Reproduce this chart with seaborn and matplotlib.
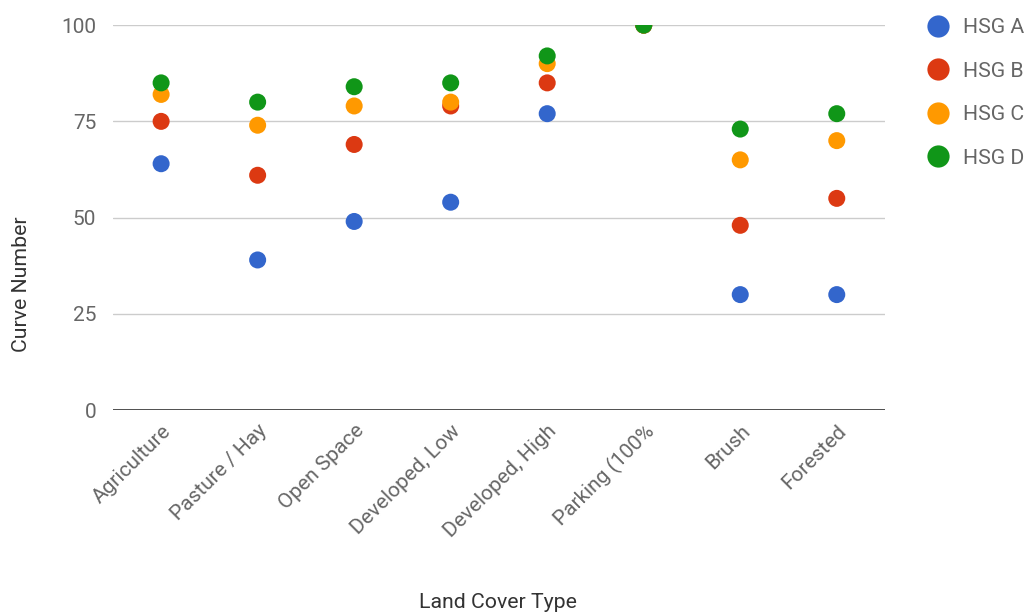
import matplotlib
matplotlib.use("Agg")
import matplotlib.pyplot as plt
import seaborn as sns
import pandas as pd

# Curve numbers by land cover type and hydrologic soil group
land_cover = ["Agriculture", "Pasture / Hay", "Open Space", "Developed, Low",
              "Developed, High", "Parking (100%", "Brush", "Forested"]
hsg_a = [64, 39, 49, 54, 77, 100, 30, 30]
hsg_b = [75, 61, 69, 79, 85, 100, 48, 55]
hsg_c = [82, 74, 79, 80, 90, 100, 65, 70]
hsg_d = [85, 80, 84, 85, 92, 100, 73, 77]
groups = ["HSG A", "HSG B", "HSG C", "HSG D"]
colors = ["#3366CC", "#DC3912", "#FF9900", "#109618"]
y_ticks = [0, 25, 50, 75, 100]

rows = []
for grp, vals in zip(groups, [hsg_a, hsg_b, hsg_c, hsg_d]):
    for cat, v in zip(land_cover, vals):
        rows.append({"Land Cover Type": cat, "Curve Number": v, "Group": grp})
df = pd.DataFrame(rows)

sns.set_theme(style="white")
plt.rcParams["font.family"] = ["Roboto", "DejaVu Sans"]

fig = plt.figure(figsize=(10.26, 6.13), dpi=100)
ax = fig.add_axes([0.110, 0.331, 0.7526, 0.628])

sns.scatterplot(data=df, x="Land Cover Type", y="Curve Number", hue="Group",
                hue_order=groups, palette=colors, s=150, edgecolor="none",
                linewidth=0, ax=ax, legend=False, zorder=3)

ax.set_xlim(-0.5, len(land_cover) - 0.5)
ax.set_ylim(0, 100)
ax.set_yticks(y_ticks)
ax.set_yticklabels([str(t) for t in y_ticks])
ax.set_xticks(range(len(land_cover)))
ax.set_xticklabels(land_cover, rotation=45, ha="right", rotation_mode="anchor")

# points at 100 are cut off by the top edge of the plotting area
for coll in ax.collections:
    coll.set_clip_on(True)
    coll.set_clip_path(ax.patch)

ax.grid(axis="y", color="#cccccc", linewidth=1)
ax.grid(axis="x", visible=False)
ax.axhline(0, color="#333333", linewidth=1.2, zorder=2)
for sp in ax.spines.values():
    sp.set_visible(False)

ax.tick_params(axis="both", length=0, labelsize=15, labelcolor="#666666")
ax.tick_params(axis="y", pad=12)
ax.tick_params(axis="x", pad=8)

ax.set_xlabel("Land Cover Type", fontsize=15.3, color="#333333")
ax.set_ylabel("Curve Number", fontsize=15.3, color="#333333")
ax.xaxis.set_label_coords(498 / 1026, 1 - 593 / 613, transform=fig.transFigure)
ax.yaxis.set_label_coords(31 / 1026, 1 - 284 / 613, transform=fig.transFigure)

handles = [plt.Line2D([], [], marker="o", linestyle="none", markersize=16,
                      markerfacecolor=c, markeredgecolor="none") for c in colors]
leg = ax.legend(handles, groups, loc="upper left", bbox_to_anchor=(0.891, 0.988),
                bbox_transform=fig.transFigure, frameon=False, fontsize=15.3,
                labelspacing=1.16, handletextpad=0.6, borderpad=0, handlelength=1.2)
for t in leg.get_texts():
    t.set_color("#666666")

fig.savefig("out.png", dpi=100)
